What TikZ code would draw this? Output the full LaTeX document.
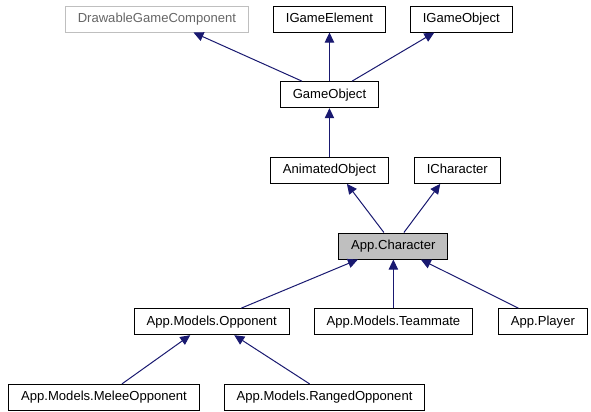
\documentclass[tikz,border=0pt]{standalone}
\usepackage{fontspec}
\setmainfont{Liberation Sans}
\usepackage{xcolor}
\usepackage{tikz}
\usetikzlibrary{arrows.meta, positioning, calc}
\definecolor{azul}{RGB}{25,25,112}
\definecolor{gris}{RGB}{191,191,191}
\definecolor{grisoscuro}{RGB}{102,102,102}

\begin{document}
\begin{tikzpicture}[
  clase/.style={
    rectangle, draw=black, fill=white, line width=0.75pt,
    font=\fontsize{9.8}{12}\selectfont,
    text height=7pt, text depth=2pt,
    minimum height=19.5pt, inner xsep=9.3pt, inner ysep=0pt
  },
  externa/.style={clase, draw=gris, text=grisoscuro},
  actual/.style={clase, fill=gris},
  hereda/.style={draw=azul, line width=0.75pt, -{Triangle[length=7.5pt,width=7pt]}},
  node distance=36.5pt and 18pt
]
\useasboundingbox (0,0) rectangle (443.25pt,-308.25pt);

% ── NODOS ────────────────────────────────────────────────────

\node[clase] (igel) at (247.1pt,-14.25pt) {IGameElement};
\node[externa, left=of igel] (dgc) {DrawableGameComponent};
\node[clase, right=of igel] (igobj) {IGameObject};

\node[clase, below=of igel] (gobj) {GameObject};

\node[clase, below=of gobj] (anim) {AnimatedObject};
\node[clase, right=18.75pt of anim] (ichar) {ICharacter};

\coordinate (medio) at ($(anim.south)!0.5!(ichar.south)$);
\node[actual, below=of medio] (achar) {App.Character};

\node[clase, below=of achar] (team) {App.Models.Teammate};
\node[clase, left=of team] (opp) {App.Models.Opponent};
\node[clase, right=18.75pt of team] (player) {App.Player};

\node[clase, anchor=north east] (melee) at ([xshift=-9pt,yshift=-36.5pt]opp.south) {App.Models.MeleeOpponent};
\node[clase, anchor=north west] (ranged) at ([xshift=9pt,yshift=-36.5pt]opp.south) {App.Models.RangedOpponent};

% ── HERENCIA ────────────────────────────────────────────────

% GameObject -> padres
\draw[hereda] ([xshift=-20.6pt]gobj.north) -- ([xshift=27.4pt]dgc.south);
\draw[hereda] (gobj.north) -- (igel.south);
\draw[hereda] ([xshift=16.9pt]gobj.north) -- ([xshift=-20.25pt]igobj.south);
% AnimatedObject -> GameObject
\draw[hereda] (anim.north) -- (gobj.south);
% App.Character -> padres
\draw[hereda] ([xshift=-7.1pt]achar.north) -- ([xshift=13.1pt]anim.south);
\draw[hereda] ([xshift=7.9pt]achar.north) -- ([xshift=-12.75pt]ichar.south);
% hijos de App.Character
\draw[hereda] ([xshift=22.1pt]opp.north) -- ([xshift=-26.6pt]achar.south);
\draw[hereda] (team.north) -- (achar.south);
\draw[hereda] ([xshift=-18.4pt]player.north) -- ([xshift=20.6pt]achar.south);
% hijos de App.Models.Opponent
\draw[hereda] ([xshift=13.5pt]melee.north) -- ([xshift=-16.1pt]opp.south);
\draw[hereda] ([xshift=-11.25pt]ranged.north) -- ([xshift=16.9pt]opp.south);

\end{tikzpicture}
\end{document}
